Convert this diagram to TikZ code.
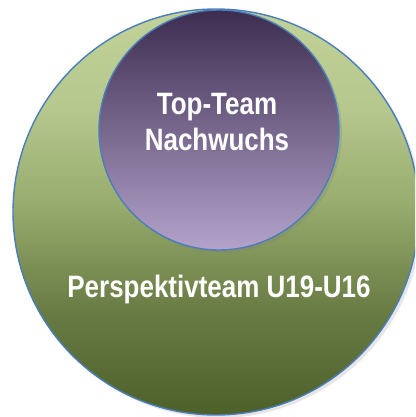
\documentclass[tikz,border=0pt]{standalone}
\usepackage{fontspec}
\setmainfont[FakeStretch=0.84]{Liberation Sans}
\usetikzlibrary{shadows}

\definecolor{rimblue}{RGB}{74,126,187}
\definecolor{greentop}{RGB}{192,210,152}
\definecolor{greenbot}{RGB}{78,96,42}
\definecolor{purpletop}{RGB}{60,45,80}
\definecolor{purplebot}{RGB}{180,162,202}

\pgfdeclareverticalshading{greenfade}{100bp}{
  color(0bp)=(greenbot); color(25bp)=(greenbot);
  color(38bp)=(rgb,255:red,104;green,124;blue,68);
  color(51bp)=(rgb,255:red,152;green,172;blue,110);
  color(63bp)=(rgb,255:red,182;green,200;blue,142);
  color(75bp)=(greentop); color(100bp)=(greentop)}

\begin{document}
\begin{tikzpicture}
\useasboundingbox (0,0) rectangle (8.30,8.34);
\clip (0,0) rectangle (8.30,8.34);

% outer circle
\node[circle, draw=rimblue, line width=0.8pt, minimum size=8.12cm, inner sep=0,
  shading=greenfade,
  drop shadow={opacity=0.2, shadow xshift=0.06cm, shadow yshift=-0.06cm}] (perspektiv) at (4.32,4.10) {};

% inner circle
\node[circle, draw=rimblue, line width=0.8pt, minimum size=4.80cm, inner sep=0,
  top color=purpletop, bottom color=purplebot,
  drop shadow={opacity=0.25, shadow xshift=0.06cm, shadow yshift=-0.06cm}] (topteam) at (4.38,5.74) {};

\node[white, font=\bfseries\fontsize{17.6}{20.5}\selectfont, align=center] (toptxt) at (4.34,5.90) {Top-Team\\Nachwuchs};
\node[white, font=\bfseries\fontsize{17.6}{20.5}\selectfont] (perstxt) at (4.38,2.54) {Perspektivteam U19-U16};

\end{tikzpicture}
\end{document}
